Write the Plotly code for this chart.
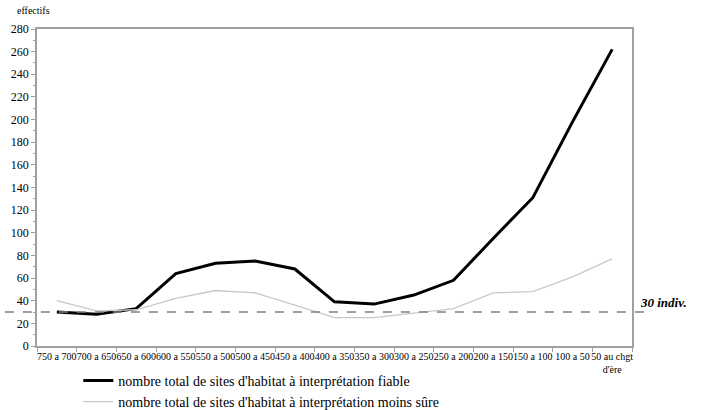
import plotly.graph_objects as go

periods = ["750 a 700", "700 a 650", "650 a 600", "600 a 550", "550 a 500",
           "500 a 450", "450 a 400", "400 a 350", "350 a 300", "300 a 250",
           "250 a 200", "200 a 150", "150 a 100", "100 a 50", "50 au chgt<br>d'ère"]
fiable = [30, 28, 33, 64, 73, 75, 68, 39, 37, 45, 58, 95, 131, 198, 262]
moins_sure = [40, 31, 32, 42, 49, 47, 36, 25, 25, 29, 33, 47, 48, 61, 77]
seuil = 30

serif = "Times New Roman, serif"

fig = go.Figure()
fig.add_trace(go.Scatter(x=periods, y=fiable, mode="lines",
                         line=dict(color="black", width=3),
                         name="nombre total de sites d'habitat à interprétation fiable"))
fig.add_trace(go.Scatter(x=periods, y=moins_sure, mode="lines",
                         line=dict(color="#c8c8c8", width=1.3),
                         name="nombre total de sites d'habitat à interprétation moins sûre"))

# seuil de 30 individus
fig.add_shape(type="line", xref="paper", yref="y", x0=-0.054, x1=1.03, y0=seuil, y1=seuil,
              line=dict(color="#808080", width=1.5, dash="dash"))
fig.add_annotation(xref="paper", yref="y", x=1.01, y=seuil, yshift=10, xanchor="left",
                   text="<b><i>30 indiv.</i></b>", showarrow=False,
                   font=dict(family=serif, size=13, color="black"))
fig.add_annotation(xref="paper", yref="paper", x=-0.037, y=1.035, xanchor="left",
                   yanchor="bottom", text="effectifs", showarrow=False,
                   font=dict(family=serif, size=10, color="black"))

fig.update_layout(
    width=712, height=410,
    margin=dict(l=37, r=80, t=29, b=64, autoexpand=False),
    plot_bgcolor="white", paper_bgcolor="white",
    font=dict(family=serif, color="black"),
    showlegend=True,
    legend=dict(x=0.11, y=0.11, xref="container", yref="container",
                xanchor="left", yanchor="top",
                font=dict(family=serif, size=14, color="black"), tracegroupgap=0,
                bgcolor="rgba(0,0,0,0)", itemwidth=30),
    xaxis=dict(type="category", range=[-0.5, len(periods) - 0.5],
               showline=True, linecolor="#a0a0a0", linewidth=1.5,
               mirror=True, ticks="outside", tickson="boundaries", ticklen=4,
               tickcolor="#a0a0a0", showgrid=False, tickangle=0,
               tickfont=dict(family=serif, size=10)),
    yaxis=dict(range=[0, 280], dtick=20, showline=True, linecolor="#a0a0a0",
               linewidth=1.5, mirror=True, ticks="outside", ticklen=4,
               tickcolor="#a0a0a0", showgrid=False, zeroline=False,
               tickfont=dict(family=serif, size=12),
               minor=dict(dtick=10, ticks="outside", ticklen=2, tickcolor="#a0a0a0")),
)

fig.write_html("out.html")
